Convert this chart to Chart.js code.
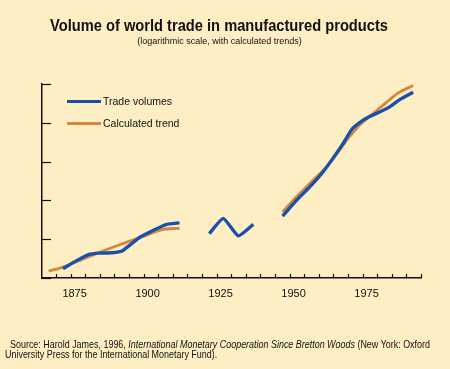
<!DOCTYPE html>
<html><head><meta charset="utf-8">
<script src="https://cdn.jsdelivr.net/npm/chart.js@4/dist/chart.umd.min.js"></script>
<style>
html,body{margin:0;padding:0;background:#fdeec3;width:450px;height:369px;overflow:hidden;}
#wrap{position:relative;width:450px;height:369px;}
canvas{position:absolute;left:0;top:0;}
.t{position:absolute;white-space:nowrap;color:#111;font-family:"Liberation Sans",Arial,sans-serif;}
#title{left:50px;top:17.5px;font-weight:bold;font-size:16px;line-height:16px;transform-origin:0 0;}
#sub{left:0;width:439px;text-align:center;top:37px;font-size:9px;line-height:9px;}
.lg{left:67px;font-size:10.5px;line-height:10.5px;}
.sw{display:inline-block;width:34px;height:3px;vertical-align:middle;margin-right:2px;position:relative;top:-1px;}
#src1{left:10px;top:338.5px;font-size:10.5px;line-height:10.5px;transform-origin:0 0;}
#src2{left:5px;top:348.5px;font-size:10.5px;line-height:10.5px;transform-origin:0 0;}
</style>
</head><body>
<div id="wrap">
<canvas id="c" width="450" height="369"></canvas>
<div class="t" id="title">Volume of world trade in manufactured products</div>
<div class="t" id="sub">(logarithmic scale, with calculated trends)</div>
<div class="t lg" style="top:96px"><span class="sw" style="background:#1a4fae"></span>Trade volumes</div>
<div class="t lg" style="top:118px"><span class="sw" style="background:#d4873f"></span>Calculated trend</div>
<div class="t" id="src1">Source: Harold James, 1996, <i>International Monetary Cooperation Since Bretton Woods</i> (New York: Oxford</div>
<div class="t" id="src2">University Press for the International Monetary Fund).</div>
</div>
<script>
// Trade volumes (index, log scale); null = gap in the series
const tradeYears  = [1872.4,1877.2,1881.1,1884.6,1889.2,1892.6,1898.8,1903.4,1907.7,1912.3,1917,1922.5,1927.3,1932.4,1937.6,1942,1947.6,1952.4,1957.0,1961.5,1964.9,1968.4,1971.2,1974.1,1977.5,1980.9,1984.3,1987.7,1992.3];
const tradeValues = [1.18,1.37,1.52,1.56,1.57,1.62,2.08,2.35,2.60,2.68,null,2.21,2.90,2.12,2.61,null,3.02,4.02,5.11,6.68,8.51,11.13,14.14,16.12,17.95,19.43,21.25,24.22,27.6];
// Calculated trend
const trendYears  = [1867.5,1872.1,1878.3,1885.2,1892.0,1898.8,1906.8,1912.3,1930,1947.6,1952.4,1958.1,1962.7,1967.2,1970.6,1974.1,1977.5,1980.9,1984.3,1987.2,1992.3];
const trendValues = [1.13,1.21,1.37,1.59,1.82,2.06,2.38,2.43,null,3.26,4.27,5.76,7.31,9.87,12.54,15.46,17.95,20.87,24.22,27.3,31.1];
// Axis ticks
const xTickYears = [1870,1875,1880,1885,1890,1895,1900,1905,1910,1915,1920,1925,1930,1935,1940,1945,1950,1955,1960,1965,1970,1975,1980,1985,1990,1995];
const xLabelYears = [1875,1900,1925,1950,1975];
const yTicks = [1,2,4,8,16,32];

// condense texts to the reference's widths
(function(){
  const ti = document.getElementById('title');
  ti.style.transform = 'scaleX(' + (338 / ti.getBoundingClientRect().width) + ')';
  const s1 = document.getElementById('src1'), s2 = document.getElementById('src2');
  const k = 420 / s1.getBoundingClientRect().width;
  s1.style.transform = 'scaleX(' + k + ')';
  s2.style.transform = 'scaleX(' + k + ')';
})();

const toPts = (xs, ys) => xs.map((x,i)=>({x:x, y:ys[i]}));

const inwardTicks = {
  id:'inwardTicks',
  beforeDatasetsDraw(chart){
    const {ctx, scales:{x,y}} = chart;
    ctx.save(); ctx.strokeStyle='#111'; ctx.lineWidth=1.2;
    x.ticks.forEach(t=>{const px=Math.round(x.getPixelForValue(t.value))+0.5; ctx.beginPath(); ctx.moveTo(px, x.top); ctx.lineTo(px, x.top-4); ctx.stroke();});
    y.ticks.forEach(t=>{const py=Math.round(y.getPixelForValue(t.value))+0.5; ctx.beginPath(); ctx.moveTo(y.right, py); ctx.lineTo(y.right+9, py); ctx.stroke();});
    ctx.restore();
  }
};

new Chart(document.getElementById('c'), {
  type:'line',
  data:{datasets:[
    {label:'Trade volumes', data:toPts(tradeYears,tradeValues), borderColor:'#1a4fae', borderWidth:3.4, pointRadius:0, tension:0.15, spanGaps:false, borderJoinStyle:'round', order:0},
    {label:'Calculated trend', data:toPts(trendYears,trendValues), borderColor:'#d4873f', borderWidth:2.8, pointRadius:0, cubicInterpolationMode:'monotone', spanGaps:false, borderJoinStyle:'round', order:1}
  ]},
  options:{
    responsive:false, animation:false, events:[],
    layout:{padding:{left:42,right:29,top:84,bottom:0}},
    plugins:{legend:{display:false}, tooltip:{enabled:false}, title:{display:false}},
    scales:{
      x:{type:'linear', min:1865.2, max:1995,
        afterBuildTicks:s=>{s.ticks = xTickYears.map(v=>({value:v}));},
        afterFit:s=>{s.height = 91;},
        grid:{display:false, drawTicks:false},
        border:{display:true, color:'#111', width:1.5},
        ticks:{autoSkip:false, maxRotation:0, padding:9, labelOffset:4, color:'#111',
          font:{family:'"Liberation Sans", Arial, sans-serif', size:11},
          callback:v=> xLabelYears.includes(v) ? String(v) : ''}
      },
      y:{type:'logarithmic', min:1, max:32,
        afterBuildTicks:s=>{s.ticks = yTicks.map(v=>({value:v}));},
        afterFit:s=>{s.width = 0;},
        grid:{display:false, drawTicks:false},
        border:{display:true, color:'#111', width:1.5},
        ticks:{display:false}
      }
    }
  },
  plugins:[inwardTicks]
});
</script>
</body></html>
